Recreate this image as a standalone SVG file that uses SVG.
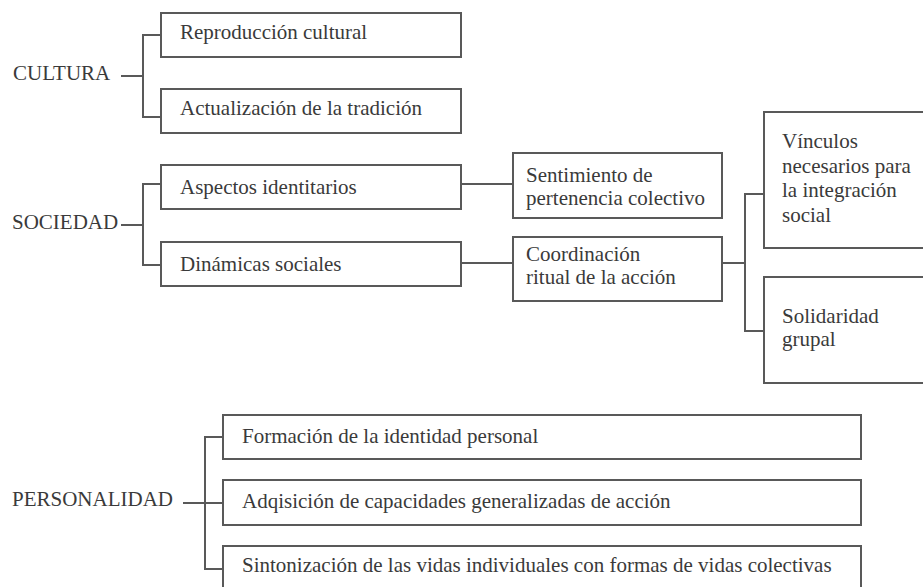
<svg xmlns="http://www.w3.org/2000/svg" width="923" height="587" viewBox="0 0 923 587">
<style>
.box{fill:#fff;stroke:#595959;stroke-width:2}
.ln{fill:none;stroke:#595959;stroke-width:2}
text{font-family:"Liberation Serif","Times New Roman",serif;font-size:21px;fill:#3a3a3a}
</style>
<rect width="923" height="587" fill="#fff"/>
<g id="connectors">
<path class="ln" d="M121,76 H143 M161,35 H143 V117 H161"/>
<path class="ln" d="M121,225 H143 M161,184 H143 V265 H161"/>
<path class="ln" d="M461,184 H513"/>
<path class="ln" d="M461,263 H513"/>
<path class="ln" d="M722,263 H745 M764,194 H745 V331 H764"/>
<path class="ln" d="M183,503 H223 M223,437 H205 V569 H223"/>
</g>
<g id="cultura"><text x="13" y="80">CULTURA</text></g>
<g id="reproduccion"><rect class="box" x="161" y="13" width="300" height="44"/><text x="180" y="39">Reproducción cultural</text></g>
<g id="actualizacion"><rect class="box" x="161" y="89" width="300" height="44"/><text x="180" y="115">Actualización de la tradición</text></g>
<g id="sociedad"><text x="12" y="229">SOCIEDAD</text></g>
<g id="aspectos"><rect class="box" x="161" y="165" width="300" height="44"/><text x="180" y="194">Aspectos identitarios</text></g>
<g id="dinamicas"><rect class="box" x="161" y="242" width="300" height="44"/><text x="180" y="271">Dinámicas sociales</text></g>
<g id="sentimiento"><rect class="box" x="513" y="153" width="209" height="65"/><text x="526" y="182">Sentimiento de</text><text x="526" y="205">pertenencia colectivo</text></g>
<g id="coordinacion"><rect class="box" x="513" y="237" width="209" height="64"/><text x="526" y="261">Coordinación</text><text x="526" y="284">ritual de la acción</text></g>
<g id="vinculos"><rect class="box" x="764" y="112" width="165" height="136"/><text x="782" y="148">Vínculos</text><text x="782" y="172.5">necesarios para</text><text x="782" y="197">la integración</text><text x="782" y="221.5">social</text></g>
<g id="solidaridad"><rect class="box" x="764" y="277" width="165" height="106"/><text x="782" y="323">Solidaridad</text><text x="782" y="346">grupal</text></g>
<g id="personalidad"><text x="12" y="506">PERSONALIDAD</text></g>
<g id="formacion"><rect class="box" x="223" y="415" width="638" height="44"/><text x="242" y="443">Formación de la identidad personal</text></g>
<g id="adquisicion"><rect class="box" x="223" y="480" width="638" height="45"/><text x="242" y="508">Adqisición de capacidades generalizadas de acción</text></g>
<g id="sintonizacion"><rect class="box" x="223" y="546" width="638" height="50"/><text x="242" y="572">Sintonización de las vidas individuales con formas de vidas colectivas</text></g>
</svg>
